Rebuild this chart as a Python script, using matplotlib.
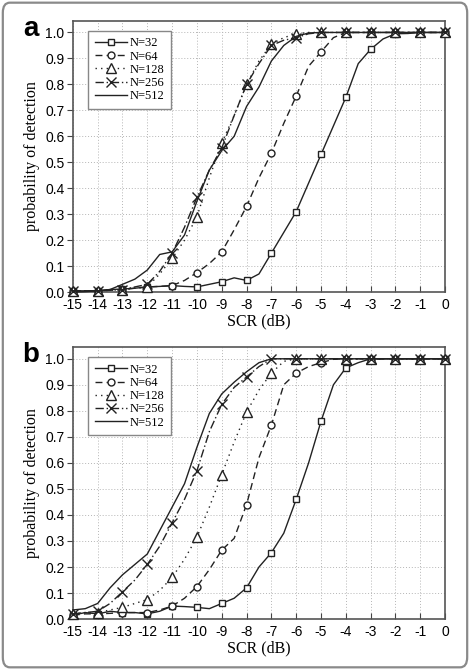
import numpy as np
import matplotlib
matplotlib.use('Agg')
import matplotlib.pyplot as plt
from matplotlib.patches import FancyBboxPatch

plt.rcParams['axes.unicode_minus'] = False

# SCR (dB), half-dB steps; markers sit on the whole dB values
scr = np.arange(-15, 0.01, 0.5)
labels = ['N=32', 'N=64', 'N=128', 'N=256', 'N=512']

# panel a
a_32 = [0.005, 0.005, 0.005, 0.01, 0.012, 0.015, 0.02, 0.022, 0.025, 0.022, 0.02, 0.03, 0.04, 0.055, 0.045, 0.07,
        0.15, 0.23, 0.31, 0.42, 0.53, 0.64, 0.75, 0.88, 0.935, 0.975, 0.995, 0.996, 1.0, 1.0, 1.0]
a_64 = [0.005, 0.005, 0.005, 0.008, 0.01, 0.015, 0.02, 0.022, 0.025, 0.045, 0.075, 0.11, 0.155, 0.24, 0.33, 0.44,
        0.535, 0.65, 0.755, 0.87, 0.925, 0.98, 1.0, 1.0, 1.0, 1.0, 1.0, 1.0, 1.0, 1.0, 1.0]
a_128 = [0.005, 0.005, 0.005, 0.007, 0.01, 0.015, 0.02, 0.07, 0.13, 0.2, 0.29, 0.44, 0.575, 0.68, 0.80, 0.89,
         0.955, 0.98, 0.995, 1.0, 1.0, 1.0, 1.0, 1.0, 1.0, 1.0, 1.0, 1.0, 1.0, 1.0, 1.0]
a_256 = [0.005, 0.005, 0.005, 0.007, 0.01, 0.02, 0.03, 0.08, 0.15, 0.25, 0.365, 0.47, 0.555, 0.68, 0.80, 0.88,
         0.95, 0.97, 0.98, 0.995, 1.0, 1.0, 1.0, 1.0, 1.0, 1.0, 1.0, 1.0, 1.0, 1.0, 1.0]
a_512 = [0.0, 0.002, 0.005, 0.01, 0.03, 0.05, 0.085, 0.145, 0.155, 0.22, 0.35, 0.47, 0.545, 0.60, 0.715, 0.79,
         0.89, 0.95, 0.985, 0.998, 1.0, 1.0, 1.0, 1.0, 1.0, 1.0, 1.0, 1.0, 1.0, 1.0, 1.0]

# panel b
b_32 = [0.015, 0.025, 0.02, 0.03, 0.025, 0.025, 0.02, 0.03, 0.05, 0.048, 0.045, 0.04, 0.06, 0.08, 0.12, 0.2,
        0.255, 0.33, 0.46, 0.6, 0.76, 0.9, 0.965, 0.985, 1.0, 1.0, 1.0, 1.0, 1.0, 1.0, 1.0]
b_64 = [0.015, 0.02, 0.02, 0.022, 0.025, 0.025, 0.025, 0.035, 0.05, 0.08, 0.125, 0.19, 0.265, 0.31, 0.44, 0.62,
        0.745, 0.9, 0.945, 0.97, 0.985, 0.998, 1.0, 1.0, 1.0, 1.0, 1.0, 1.0, 1.0, 1.0, 1.0]
b_128 = [0.02, 0.025, 0.025, 0.035, 0.045, 0.06, 0.075, 0.11, 0.16, 0.23, 0.315, 0.43, 0.555, 0.68, 0.795, 0.88,
         0.945, 0.99, 1.0, 1.0, 1.0, 1.0, 1.0, 1.0, 1.0, 1.0, 1.0, 1.0, 1.0, 1.0, 1.0]
b_256 = [0.02, 0.025, 0.03, 0.06, 0.105, 0.15, 0.21, 0.28, 0.37, 0.46, 0.57, 0.72, 0.825, 0.89, 0.93, 0.97,
         1.0, 1.0, 1.0, 1.0, 1.0, 1.0, 1.0, 1.0, 1.0, 1.0, 1.0, 1.0, 1.0, 1.0, 1.0]
b_512 = [0.035, 0.04, 0.06, 0.12, 0.17, 0.21, 0.25, 0.34, 0.43, 0.52, 0.66, 0.79, 0.865, 0.91, 0.95, 0.985,
         1.0, 1.0, 1.0, 1.0, 1.0, 1.0, 1.0, 1.0, 1.0, 1.0, 1.0, 1.0, 1.0, 1.0, 1.0]

# (linestyle, marker, marker size)
styles = [('-', 's', 5), ((0, (5, 3)), 'o', 5), ((0, (1, 3)), '^', 6.5), ((0, (6, 2, 1, 2)), 'x', 7), ('-', None, 0)]
ink = '#222222'

fig = plt.figure(figsize=(4.7, 6.7), dpi=100)
# grey rounded frame round the whole picture
fig.patches.append(FancyBboxPatch((0.006, 0.004), 0.988, 0.992, boxstyle='round,pad=0,rounding_size=0.015',
                                  transform=fig.transFigure, fill=False, ec='#8a8a8a', lw=1.6))

ax_a = fig.add_axes([0.155, 0.564, 0.792, 0.405])
ax_b = fig.add_axes([0.155, 0.076, 0.792, 0.406])

for ax, series, tag in [(ax_a, [a_32, a_64, a_128, a_256, a_512], 'a'),
                        (ax_b, [b_32, b_64, b_128, b_256, b_512], 'b')]:
    for ys, (ls, mk, ms), lab in zip(series, styles, labels):
        ax.plot(scr, ys, color=ink, ls=ls, lw=1.0, marker=mk, markevery=2, ms=ms,
                mfc='white', mec=ink, mew=1.0, label=lab, clip_on=False, zorder=3)
    ax.set_xlim(-15, 0)
    ax.set_ylim(0, 1.045)
    ax.set_xticks(np.arange(-15, 1, 1))
    ax.set_yticks(np.arange(0, 1.01, 0.1))
    ax.set_xticklabels([str(v) for v in range(-15, 1)], family='Liberation Sans', fontsize=10)
    ax.set_yticklabels(['%.1f' % v for v in np.arange(0, 1.01, 0.1)], family='Liberation Sans', fontsize=10)
    ax.tick_params(axis='x', direction='in', length=4, color='#444444', pad=4)
    ax.tick_params(axis='y', direction='out', length=4, color='#444444', pad=2)
    ax.grid(True, ls=(0, (1, 2)), color='#b5b5b5', lw=0.7)
    for sp in ax.spines.values():
        sp.set_color('#555555')
        sp.set_linewidth(1.2)
    ax.set_xlabel('SCR (dB)', family='Liberation Serif', fontsize=11.5, labelpad=1)
    ax.set_ylabel('probability of detection', family='Liberation Serif', fontsize=11.5, labelpad=4)
    leg = ax.legend(loc='upper left', bbox_to_anchor=(0.025, 0.985), prop={'family': 'Liberation Serif', 'size': 9},
                    handlelength=2.6, handletextpad=0.2, labelspacing=0.1, borderpad=0.5,
                    fancybox=False, framealpha=1, edgecolor='#888888')
    leg.get_frame().set_linewidth(1.0)
    fig.text(0.065, ax.get_position().y1 - 0.012, tag, fontsize=20, fontweight='bold',
             family='Liberation Sans', ha='center', va='center')

fig.savefig('out.png', dpi=100)
